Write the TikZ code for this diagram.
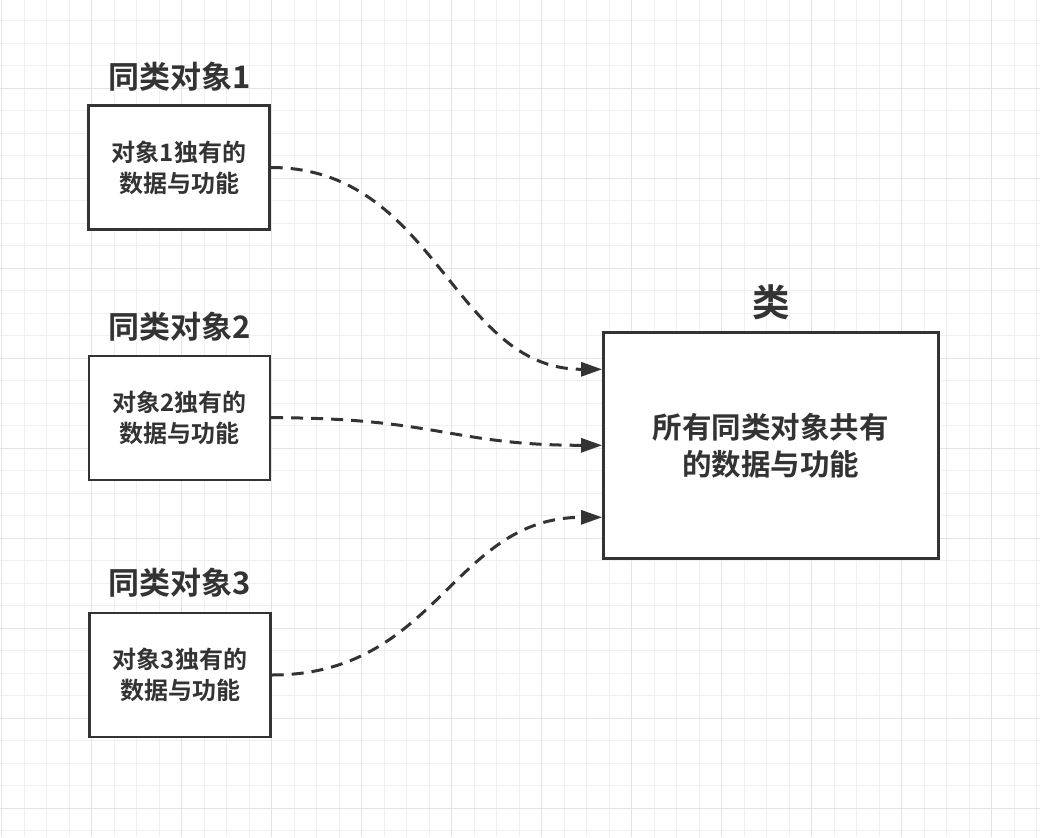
\documentclass[tikz,border=0pt]{standalone}
\usepackage{fontspec}
\setmainfont{Noto Sans CJK SC}[BoldFont={Noto Sans CJK SC Bold}]
\usetikzlibrary{arrows.meta,calc}
\definecolor{ink}{HTML}{333333}
\definecolor{gridminor}{HTML}{F0F0F0}
\definecolor{gridmajor}{HTML}{E4E4E4}
\tikzset{
  objbox/.style={draw=ink, line width=2.4pt, fill=white, minimum width=181pt, minimum height=124pt,
    text=ink, font=\bfseries\fontsize{24}{31}\selectfont, align=center, inner sep=0pt},
  bigbox/.style={draw=ink, line width=2.4pt, fill=white, minimum width=335pt, minimum height=226pt,
    text=ink, font=\bfseries\fontsize{29.5}{37}\selectfont, align=center, inner sep=0pt},
  titletext/.style={text=ink, font=\bfseries\fontsize{31}{34}\selectfont, inner sep=0pt},
  bigtitle/.style={text=ink, font=\bfseries\fontsize{37.5}{40}\selectfont, inner sep=0pt},
  link/.style={draw=ink, line width=3pt, dash pattern=on 12pt off 8pt,
    -{Triangle[length=21pt,width=14pt]}},
}
\begin{document}
\begin{tikzpicture}[x=1pt,y=-1pt]
\fill[white] (0,0) rectangle (1040,837);
\useasboundingbox (0,0) rectangle (1040,837);
% grid
\foreach \i in {0,...,46} {
  \draw[gridminor, line width=1pt] ({1.7+22.5*\i},0) -- ({1.7+22.5*\i},837);
}
\foreach \j in {0,...,37} {
  \draw[gridminor, line width=1pt] (0,{-1.7+22.5*\j}) -- (1040,{-1.7+22.5*\j});
}
\foreach \i in {0,...,11} {
  \draw[gridmajor, line width=1.2pt] ({1.7+90*\i},0) -- ({1.7+90*\i},837);
}
\foreach \j in {1,...,9} {
  \draw[gridmajor, line width=1.2pt] (0,{-1.7+90*\j}) -- (1040,{-1.7+90*\j});
}
% titles
\node[titletext] (t1) at (179.5,77) {同类对象1};
\node[titletext] (t2) at (179.5,327) {同类对象2};
\node[titletext] (t3) at (180,583) {同类对象3};
\node[bigtitle] (tc) at (771,302) {类};
% boxes
\node[objbox] (b1) at (179,167.5) {对象1独有的\\数据与功能};
\node[objbox] (b2) at (179.5,417.7) {对象2独有的\\数据与功能};
\node[objbox] (b3) at (180,675) {对象3独有的\\数据与功能};
\node[bigbox] (c) at (770.8,445.3) {所有同类对象共有\\的数据与功能};
% targets
\coordinate (e1) at ([yshift=76pt]c.west);
\coordinate (e2) at (c.west);
\coordinate (e3) at ([yshift=-72pt]c.west);
% links
\draw[link] (b1.east) .. controls +(166,0) and +(-150,0) .. (e1);
\draw[link] (b2.east) .. controls +(166,0) and +(-150,0) .. (e2);
\draw[link] (b3.east) .. controls +(166,0) and +(-150,0) .. (e3);
\end{tikzpicture}
\end{document}
